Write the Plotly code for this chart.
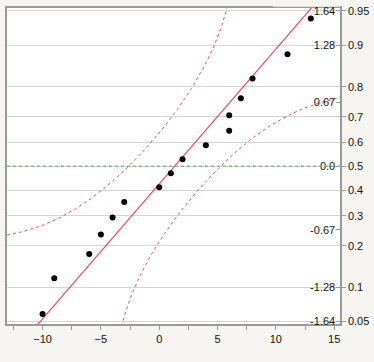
import numpy as np
import plotly.graph_objects as go
from statistics import NormalDist

# ---- data ----
values = [-10, -9, -6, -5, -4, -3, 0, 1, 2, 4, 6, 6, 7, 8, 11, 13]
prob_ticks = [0.05, 0.1, 0.2, 0.3, 0.4, 0.5, 0.6, 0.7, 0.8, 0.9, 0.95]
prob_labels = ["0.05", "0.1", "0.2", "0.3", "0.4", "0.5", "0.6", "0.7", "0.8", "0.9", "0.95"]
quant_probs = [0.05, 0.1, 0.25, 0.5, 0.75, 0.9, 0.95]
quant_labels = ["-1.64", "-1.28", "-0.67", "0.0", "0.67", "1.28", "1.64"]
lilliefors_D = 0.213  # band half-width in probability

N = NormalDist()
x = np.sort(np.array(values, dtype=float))
n = len(x)
zq = np.array([N.inv_cdf(i / (n + 1)) for i in range(1, n + 1)])
mean = x.mean()
sd = x.std(ddof=1)

XR = [-13.05, 15.5]
YR = [-1.67, 1.676]

# fitted line
zl = np.array([-2.0, 2.0])
xl = mean + sd * zl

# confidence bands
xg = np.linspace(XR[0], XR[1], 400)
pg = np.array([N.cdf((v - mean) / sd) for v in xg])
up_p = pg + lilliefors_D
lo_p = pg - lilliefors_D
mu = up_p < 0.9995
ml = lo_p > 0.0005
z_up = np.array([N.inv_cdf(p) for p in up_p[mu]])
z_lo = np.array([N.inv_cdf(p) for p in lo_p[ml]])

red = "#ee4a5e"
bg = "#f6f5f2"
fig = go.Figure()
fig.add_trace(go.Scatter(x=xg[mu], y=z_up, mode="lines",
                         line=dict(color=red, width=1, dash="dot"), hoverinfo="skip"))
fig.add_trace(go.Scatter(x=xg[ml], y=z_lo, mode="lines",
                         line=dict(color=red, width=1, dash="dot"), hoverinfo="skip"))
fig.add_trace(go.Scatter(x=xl, y=zl, mode="lines", line=dict(color=red, width=1.2)))
fig.add_trace(go.Scatter(x=x, y=zq, mode="markers",
                         marker=dict(color="black", size=6)))
# invisible trace for second y axis
fig.add_trace(go.Scatter(x=[None], y=[None], yaxis="y2", showlegend=False))

fig.add_shape(type="line", xref="paper", x0=0, x1=1, y0=0, y1=0,
              line=dict(color="#66cc66", width=1.5, dash="dot"), layer="above")
# mask above plot (clips top inner label like the reference)
fig.add_shape(type="rect", xref="paper", yref="paper", x0=0.8, x1=1.0,
              y0=1.004, y1=1.1, fillcolor=bg, line=dict(width=0), layer="above")

tf = dict(family="Liberation Sans, Arial, sans-serif", size=11, color="#111")
fig.update_layout(
    width=374, height=362,
    margin=dict(l=5, r=34, t=5, b=38),
    paper_bgcolor=bg, plot_bgcolor="white",
    showlegend=False, font=tf,
    xaxis=dict(range=XR, dtick=5, tick0=0, ticks="outside", ticklen=4,
               tickcolor="#999", showgrid=False, zeroline=False, tickfont=tf,
               showline=True, linecolor="#9a9a9a", linewidth=1.5, mirror=True,
               minor=dict(dtick=2.5, tick0=0, ticks="outside", ticklen=4, tickcolor="#999")),
    yaxis=dict(range=YR, side="right", tickfont=tf,
               tickvals=[N.inv_cdf(p) for p in prob_ticks], ticktext=prob_labels,
               ticks="outside", ticklen=4, tickcolor="#999",
               showgrid=True, gridcolor="#d4d4d4", gridwidth=1, zeroline=False,
               showline=True, linecolor="#9a9a9a", linewidth=1.5, mirror=True),
    yaxis2=dict(range=YR, overlaying="y", side="right", tickfont=tf,
                tickvals=[N.inv_cdf(p) for p in quant_probs], ticktext=quant_labels,
                ticks="inside", ticklen=4, tickcolor="#999",
                ticklabelposition="inside", ticklabeloverflow="allow",
                showgrid=False, zeroline=False, showline=False),
)
fig.write_html("out.html", config={"displayModeBar": False},
               post_script="document.body.style.margin='0';document.body.style.background='%s';" % bg)
